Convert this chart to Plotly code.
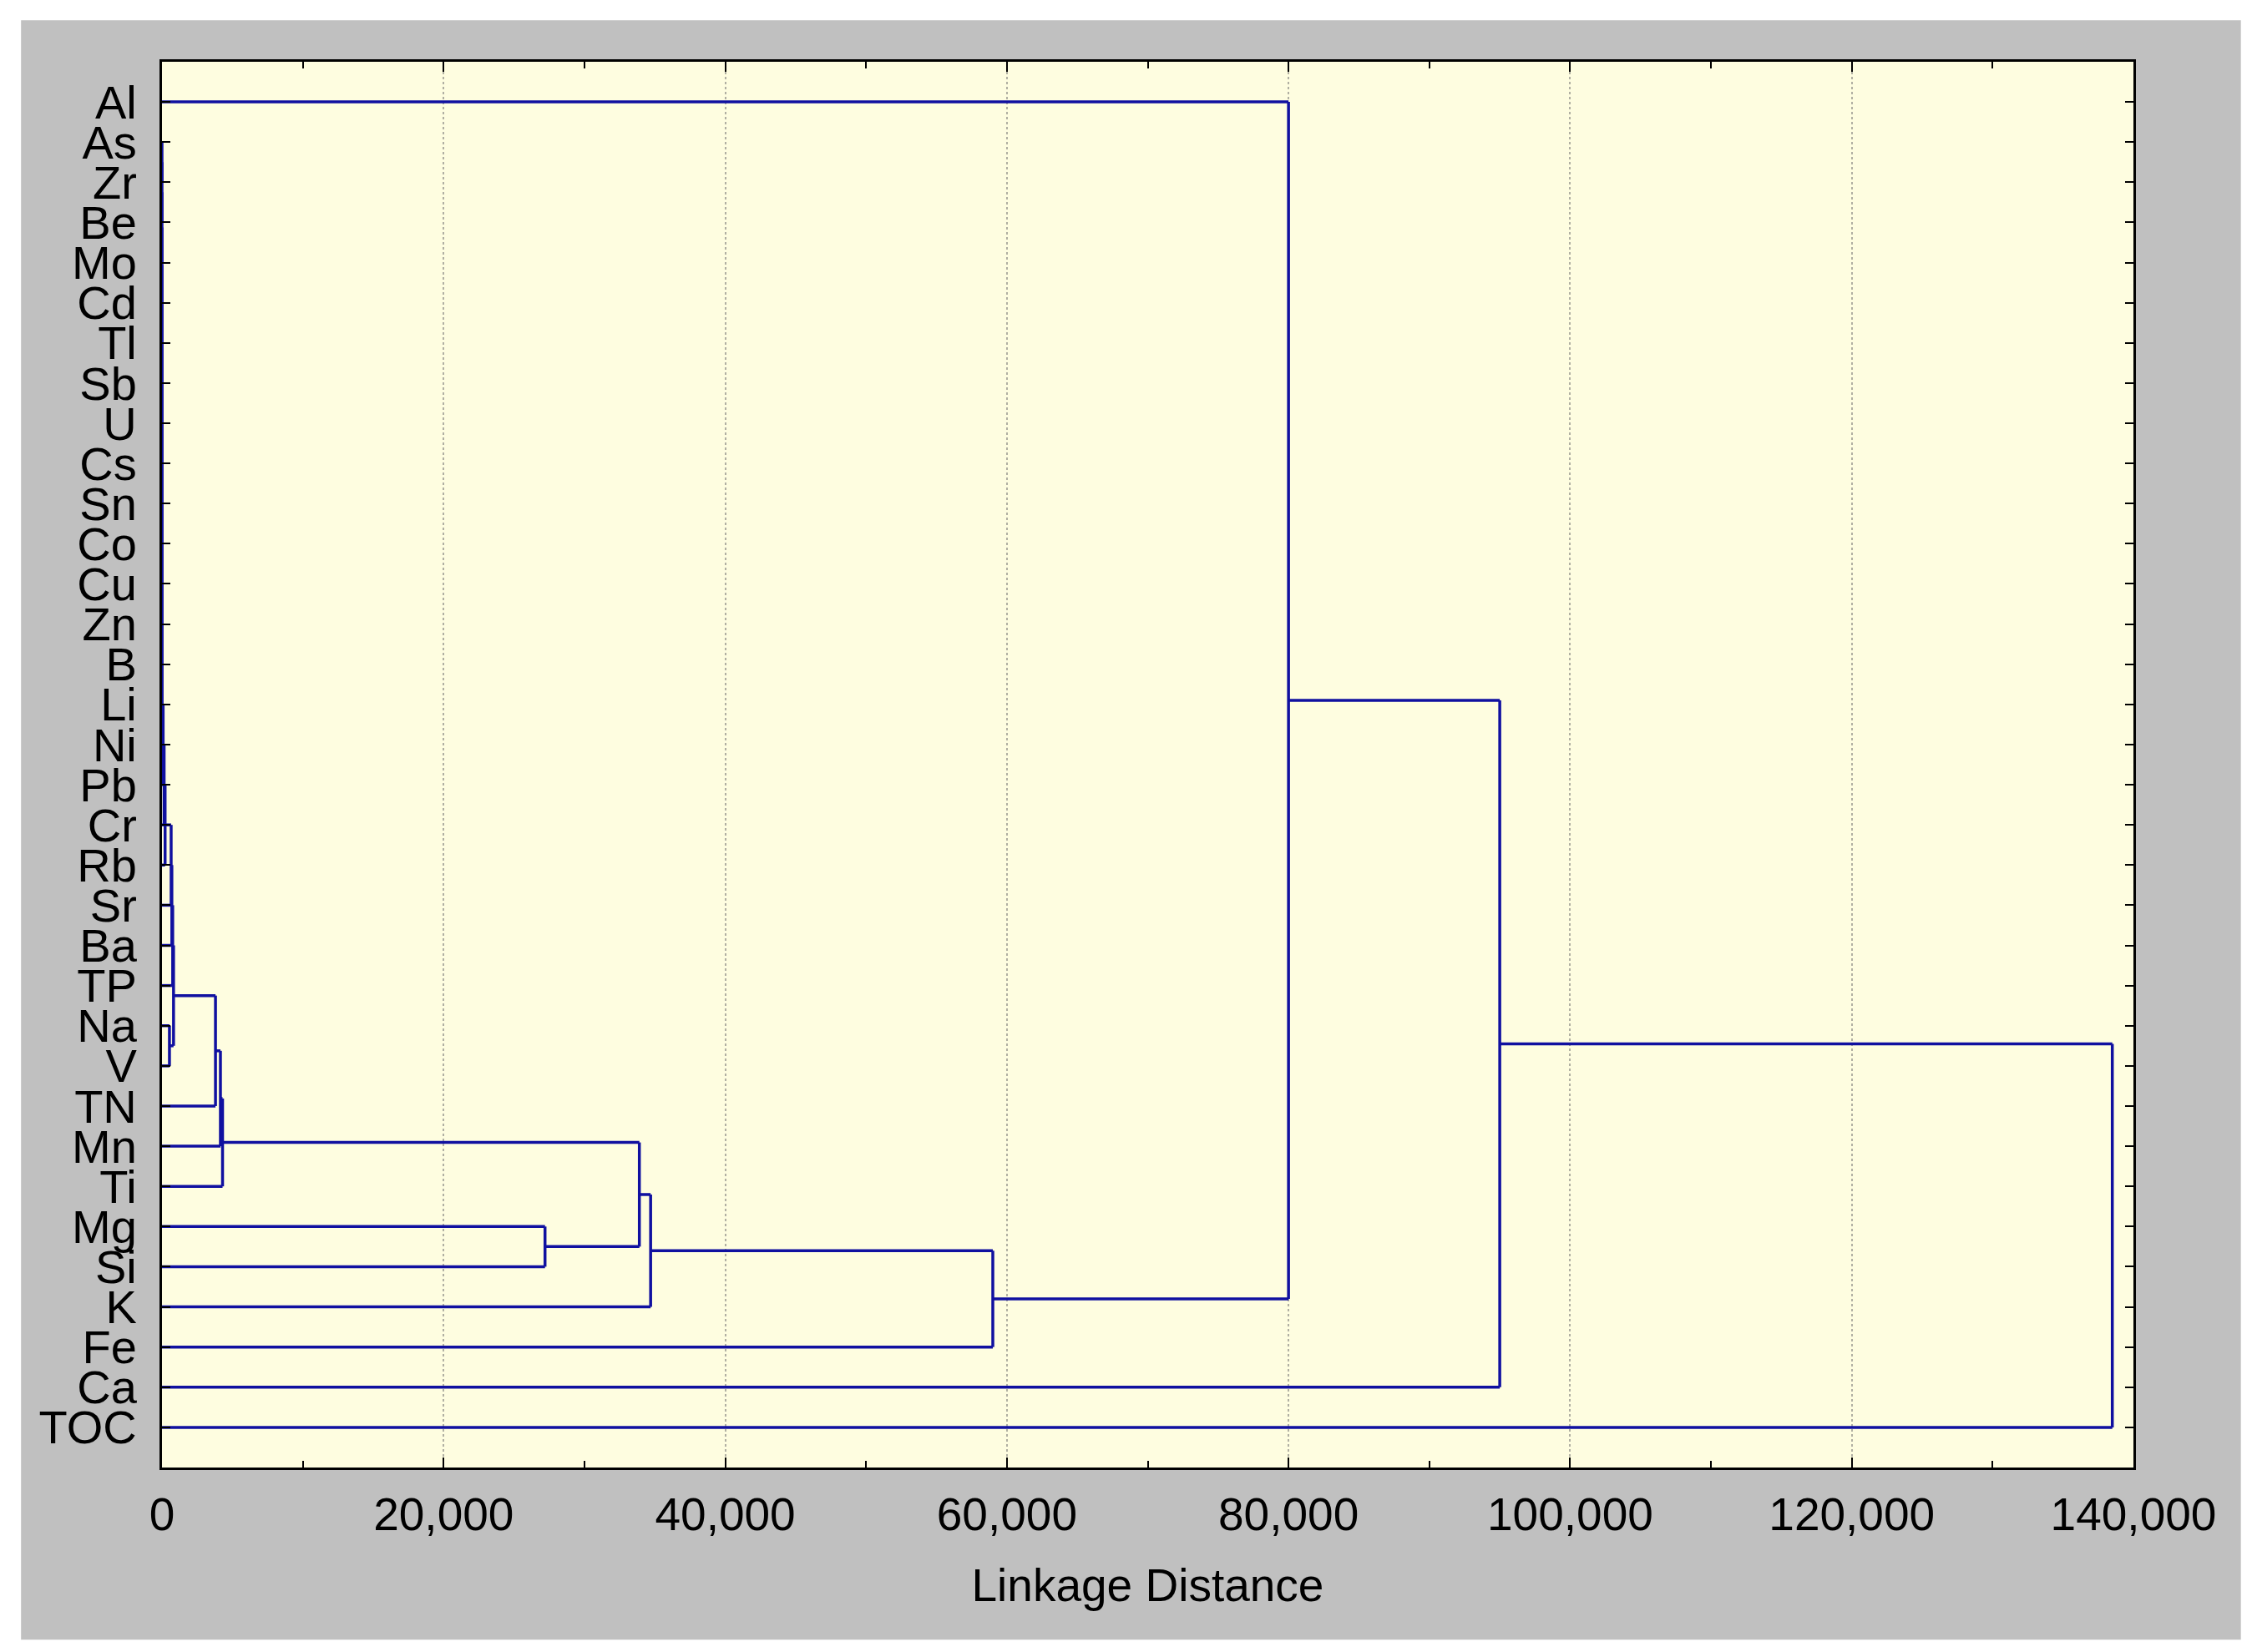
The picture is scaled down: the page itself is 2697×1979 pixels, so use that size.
import plotly.graph_objects as go

# leaf order, top to bottom
labels = ["Al", "As", "Zr", "Be", "Mo", "Cd", "Tl", "Sb", "U", "Cs", "Sn", "Co",
          "Cu", "Zn", "B", "Li", "Ni", "Pb", "Cr", "Rb", "Sr", "Ba", "TP", "Na",
          "V", "TN", "Mn", "Ti", "Mg", "Si", "K", "Fe", "Ca", "TOC"]

# joining steps: a string is a leaf, an int is an earlier step
merge_left = ["As", 0, 1, 2, 3, 4, 5, 6, 7, 8, 9, 10, 11, 12, 13, 14, 15, 16, 17,
              18, 19, "Na", 20, 22, 23, 24, "Mg", 25, 27, 28, "Al", 30, 31]
merge_right = ["Zr", "Be", "Mo", "Cd", "Tl", "Sb", "U", "Cs", "Sn", "Co", "Cu", "Zn",
               "B", "Li", "Ni", "Pb", "Cr", "Rb", "Sr", "Ba", "TP", "V", 21, "TN",
               "Mn", "Ti", "Si", 26, "K", "Fe", 29, "Ca", "TOC"]
merge_dist = [0, 0, 0, 0, 0, 0, 0, 0, 0, 0, 0, 0, 0, 0, 0, 80, 150, 220, 650, 700,
              760, 530, 820, 3800, 4150, 4300, 27200, 33900, 34700, 59000, 80000,
              95000, 138500]

x_ticks = [0, 20000, 40000, 60000, 80000, 100000, 120000, 140000]

pos = {lab: i + 1 for i, lab in enumerate(labels)}
height = {lab: 0 for lab in labels}

xs, ys = [], []
for k, (a, b, d) in enumerate(zip(merge_left, merge_right, merge_dist)):
    pa, pb = pos[a], pos[b]
    # horizontal arm of each child
    xs += [height[a], d, None, height[b], d, None]
    ys += [pa, pa, None, pb, pb, None]
    # vertical joint
    xs += [d, d, None]
    ys += [pa, pb, None]
    pos[k] = (pa + pb) / 2
    height[k] = d

fig = go.Figure()
fig.add_trace(go.Scatter(x=xs, y=ys, mode="lines",
                         line=dict(color="#1010a0", width=3.5), hoverinfo="skip",
                         showlegend=False))

font_fam = "Liberation Sans Narrow, Arial Narrow, Liberation Sans, Arial, sans-serif"

fig.update_layout(
    width=2697, height=1979,
    margin=dict(l=186, r=150, t=66, b=229),
    paper_bgcolor="white",
    plot_bgcolor="#fefde0",
    font=dict(family=font_fam, size=56, color="black"),
    showlegend=False,
    shapes=[
        dict(type="rect", xref="paper", yref="paper", x0=-0.0715, x1=1.0545,
             y0=-0.1225, y1=1.0295, fillcolor="#c0c0c0", line=dict(width=0),
             layer="below"),
        dict(type="rect", xref="paper", yref="paper", x0=0, x1=1, y0=0, y1=1,
             fillcolor="#fefde0", line=dict(width=0), layer="below"),
    ],
)

fig.update_xaxes(
    range=[0, 140000], tickvals=x_ticks, tickformat=",d",
    ticks="inside", ticklen=12, tickwidth=2, tickcolor="black",
    minor=dict(dtick=10000, ticks="inside", ticklen=8, tickwidth=2, tickcolor="black",
               showgrid=False),
    showgrid=True, gridcolor="#b0afa2", gridwidth=2, griddash="dot",
    showline=True, linecolor="black", linewidth=3, mirror="ticks",
    zeroline=False, tickfont=dict(size=55), ticklabelstandoff=6,
    title=dict(text="Linkage Distance", font=dict(size=55), standoff=36),
)
fig.update_yaxes(
    range=[35, 0], tickvals=list(range(1, len(labels) + 1)), ticktext=labels,
    ticks="inside", ticklen=10, tickwidth=2, tickcolor="black",
    showgrid=False, showline=True, linecolor="black", linewidth=3, mirror="ticks",
    zeroline=False, tickfont=dict(size=56), ticklabelstandoff=16,
)

fig.write_html("out.html")
